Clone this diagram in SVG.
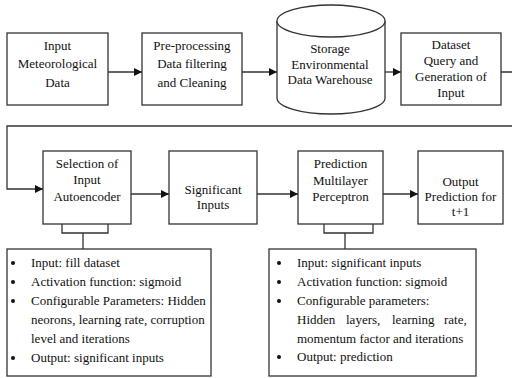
<svg xmlns="http://www.w3.org/2000/svg" width="512" height="378" viewBox="0 0 512 378" font-family="'Liberation Serif', 'Times New Roman', serif" font-size="13">
<defs>
<marker id="ah" viewBox="0 0 8 8" refX="8" refY="4" markerWidth="8" markerHeight="8" markerUnits="userSpaceOnUse" orient="auto">
<path d="M0,0 L8,4 L0,8 Z" fill="#111"/>
</marker>
</defs>
<style>
.b{fill:#fff;stroke:#333;stroke-width:1.3}
.c{fill:none;stroke:#333;stroke-width:1.3}
text{fill:#111}
.t{text-anchor:middle}
.d{fill:#111}
</style>
<rect width="512" height="378" fill="#fff"/>
<g id="connectors">
<path class="c" d="M108,72 H142" marker-end="url(#ah)"/>
<path class="c" d="M242,72 H277" marker-end="url(#ah)"/>
<path class="c" d="M385,72 H401" marker-end="url(#ah)"/>
<path class="c" d="M501,72 H514 V126 H7 V189 H43" marker-end="url(#ah)"/>
<path class="c" d="M131,194 H169" marker-end="url(#ah)"/>
<path class="c" d="M257,194 H298" marker-end="url(#ah)"/>
<path class="c" d="M383,194 H418" marker-end="url(#ah)"/>
<path class="c" d="M62,224 V233 H108 V224 M83,233 V249"/>
<path class="c" d="M324,224 V233 H373 V224 M345,233 V249"/>
</g>
<g id="input">
<rect class="b" x="7" y="33" width="101" height="72"/>
<text class="t" x="57.5" y="50">Input</text>
<text class="t" x="57.5" y="68">Meteorological</text>
<text class="t" x="57.5" y="87">Data</text>
</g>
<g id="preprocessing">
<rect class="b" x="142" y="33" width="100" height="72"/>
<text class="t" x="192" y="50">Pre-processing</text>
<text class="t" x="192" y="68">Data filtering</text>
<text class="t" x="192" y="87">and Cleaning</text>
</g>
<g id="storage">
<path class="b" d="M277,21 V98 A54,16 0 0 0 385,98 V21"/>
<ellipse class="b" cx="331" cy="21" rx="54" ry="16"/>
<text class="t" x="330" y="53">Storage</text>
<text class="t" x="330" y="69">Environmental</text>
<text class="t" x="330" y="84">Data Warehouse</text>
</g>
<g id="dataset">
<rect class="b" x="401" y="33" width="100" height="72"/>
<text class="t" x="451" y="49">Dataset</text>
<text class="t" x="451" y="65">Query and</text>
<text class="t" x="451" y="81">Generation of</text>
<text class="t" x="451" y="97">Input</text>
</g>
<g id="selection">
<rect class="b" x="43" y="151" width="88" height="73"/>
<text class="t" x="87" y="168">Selection of</text>
<text class="t" x="87" y="184">Input</text>
<text class="t" x="87" y="201">Autoencoder</text>
</g>
<g id="significant">
<rect class="b" x="169" y="151" width="88" height="73"/>
<text class="t" x="213" y="194">Significant</text>
<text class="t" x="213" y="209">Inputs</text>
</g>
<g id="prediction">
<rect class="b" x="298" y="151" width="85" height="73"/>
<text class="t" x="340.5" y="168">Prediction</text>
<text class="t" x="340.5" y="185">Multilayer</text>
<text class="t" x="340.5" y="201">Perceptron</text>
</g>
<g id="output">
<rect class="b" x="418" y="151" width="85" height="73"/>
<text class="t" x="460.5" y="186">Output</text>
<text class="t" x="460.5" y="201">Prediction for</text>
<text class="t" x="460.5" y="216">t+1</text>
</g>
<g id="autoencoder-params">
<rect class="b" x="7" y="249" width="204" height="127"/>
<circle class="d" cx="13" cy="263" r="2"/>
<circle class="d" cx="13" cy="282" r="2"/>
<circle class="d" cx="13" cy="301" r="2"/>
<circle class="d" cx="13" cy="358" r="2"/>
<text x="31" y="267">Input: fill dataset</text>
<text x="31" y="286">Activation function: sigmoid</text>
<text x="31" y="305">Configurable Parameters: Hidden</text>
<text x="31" y="324">neorons, learning rate, corruption</text>
<text x="31" y="343">level and iterations</text>
<text x="31" y="362">Output: significant inputs</text>
</g>
<g id="mlp-params">
<rect class="b" x="269" y="249" width="207" height="127"/>
<circle class="d" cx="279" cy="263" r="2"/>
<circle class="d" cx="279" cy="282" r="2"/>
<circle class="d" cx="279" cy="301" r="2"/>
<circle class="d" cx="279" cy="357" r="2"/>
<text x="297" y="267">Input: significant inputs</text>
<text x="297" y="286">Activation function: sigmoid</text>
<text x="297" y="305">Configurable parameters:</text>
<text y="324"><tspan x="297">Hidden</tspan><tspan x="346">layers,</tspan><tspan x="392">learning</tspan><tspan x="444">rate,</tspan></text>
<text x="297" y="343">momentum factor and iterations</text>
<text x="297" y="361">Output: prediction</text>
</g>
</svg>
